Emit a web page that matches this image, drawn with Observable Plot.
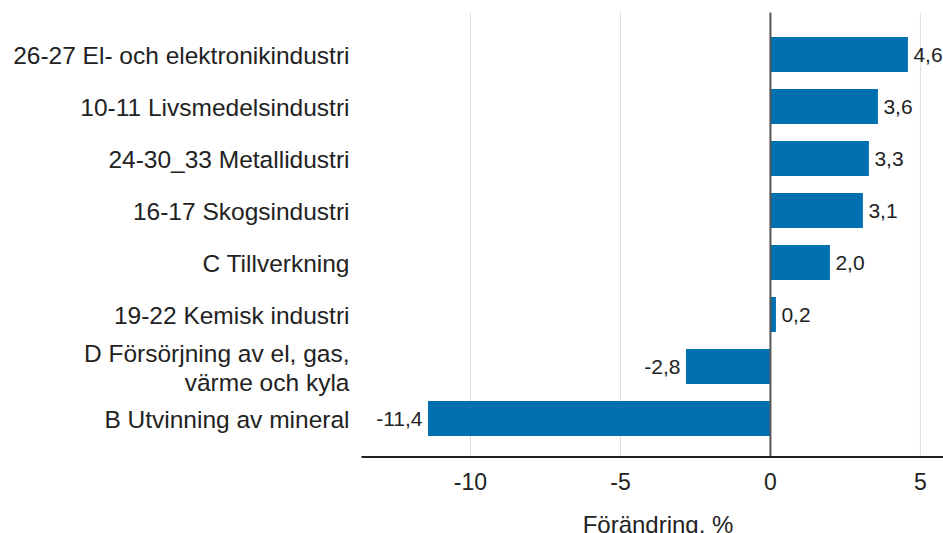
<!DOCTYPE html>
<html>
<head>
<meta charset="utf-8">
<script src="https://cdn.jsdelivr.net/npm/d3@7"></script>
<script src="https://cdn.jsdelivr.net/npm/@observablehq/plot@0.6"></script>
<style>
  html, body { margin: 0; padding: 0; background: #fff; }
  #chart svg { display: block; }
</style>
</head>
<body>
<div id="chart"></div>
<script>
const categories = [
  "26-27 El- och elektronikindustri",
  "10-11 Livsmedelsindustri",
  "24-30_33 Metallidustri",
  "16-17 Skogsindustri",
  "C Tillverkning",
  "19-22 Kemisk industri",
  "D Försörjning av el, gas,\nvärme och kyla",
  "B Utvinning av mineral"
];
const values = [4.6, 3.6, 3.3, 3.1, 2.0, 0.2, -2.8, -11.4];
const xTicks = [-10, -5, 0, 5];
const xLabel = "Förändring, %";

const data = categories.map((c, i) => ({category: c, value: values[i]}));
const fmt = v => v.toFixed(1).replace(".", ",");
const font = "Liberation Sans, Arial, sans-serif";

const chart = Plot.plot({
  width: 943,
  height: 533,
  marginLeft: 362,
  marginRight: 0,
  marginTop: 16.6,
  marginBottom: 76.4,
  style: {fontFamily: font, fontSize: "23px", color: "#222", background: "#fff"},
  x: {domain: [-13.6, 5.77], ticks: xTicks},
  y: {domain: categories, paddingInner: 0.32, paddingOuter: 0.35},
  marks: [
    Plot.gridX(xTicks.filter(d => d !== 0), {stroke: "#dcdcdc", strokeOpacity: 1, strokeWidth: 1, insetTop: -4}),
    Plot.barX(data, {x: "value", y: "category", fill: "#0070b0"}),
    Plot.ruleX([0], {stroke: "#555", strokeWidth: 2, insetTop: -4}),
    Plot.frame({anchor: "bottom", stroke: "#222", strokeWidth: 2}),
    Plot.text(data.filter(d => d.value >= 0), {x: "value", y: "category", text: d => fmt(d.value), dx: 5, textAnchor: "start", fontSize: 21, fill: "#222"}),
    Plot.text(data.filter(d => d.value < 0), {x: "value", y: "category", text: d => fmt(d.value), dx: -6, textAnchor: "end", fontSize: 21, fill: "#222"}),
    Plot.axisY({tickSize: 0, tickPadding: 13, fontSize: 24.5, label: null, lineHeight: 1.18}),
    Plot.axisX({ticks: xTicks, tickSize: 0, tickPadding: 17, fontSize: 23, tickFormat: d => String(d), label: null}),
    Plot.text([xLabel], {frameAnchor: "bottom", lineAnchor: "top", dy: 59, dx: 5, fontSize: 24, fill: "#222"})
  ]
});
document.getElementById("chart").appendChild(chart);
</script>
</body>
</html>
